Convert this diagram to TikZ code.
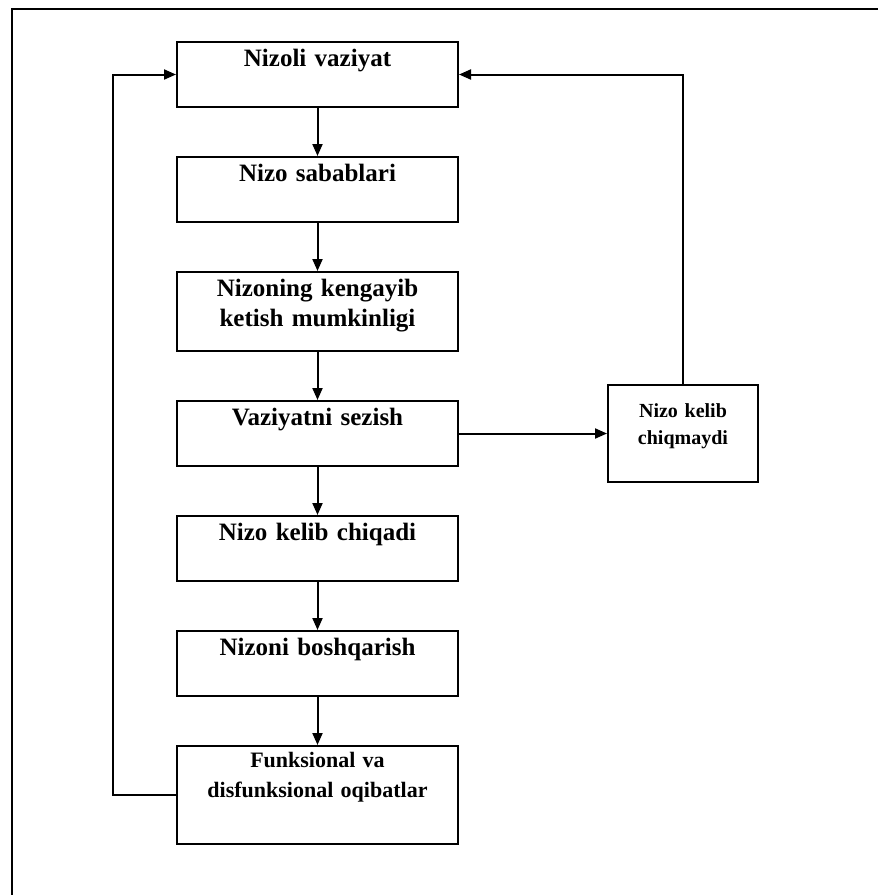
\documentclass[tikz,border=0pt]{standalone}
\usepackage{fontspec}
\setmainfont{Liberation Serif}
\usetikzlibrary{positioning, arrows.meta}

\begin{document}
\begin{tikzpicture}[node distance=24pt, line width=1pt,
	box/.style={draw, rectangle, inner sep=3pt, text width=134.5pt, align=center,
		font=\fontsize{12.5}{15}\selectfont\bfseries, text height=9pt, text depth=17.5pt},
	arr/.style={-{Triangle[length=6pt,width=5pt]}}]
	\useasboundingbox (0,0) rectangle (440pt,-447.5pt);
	\draw (6pt,-447.5pt) -- (6pt,-4.5pt) -- (439pt,-4.5pt);
	\node[box] (vaz) at (158.75pt,-37.25pt) {Nizoli vaziyat};
	\node[box, below=of vaz] (sab) {Nizo sabablari};
	\node[box, below=of sab, text depth=24.5pt] (keng) {Nizoning kengayib\\ketish mumkinligi};
	\node[box, below=of keng] (sez) {Vaziyatni sezish};
	\node[box, below=of sez] (chiq) {Nizo kelib chiqadi};
	\node[box, below=of chiq] (bosh) {Nizoni boshqarish};
	\node[box, below=of bosh, font=\fontsize{11}{15}\selectfont\bfseries, text height=7.5pt, text depth=35.5pt] (oqib) {Funksional va\\disfunksional oqibatlar};
	\node[box, right=74pt of sez, text width=69pt, font=\fontsize{10}{13.5}\selectfont\bfseries, text height=13pt, text depth=29.5pt] (yoq) {Nizo kelib chiqmaydi};
	\draw[arr] (vaz) -- (sab);
	\draw[arr] (sab) -- (keng);
	\draw[arr] (keng) -- (sez);
	\draw[arr] (sez) -- (chiq);
	\draw[arr] (chiq) -- (bosh);
	\draw[arr] (bosh) -- (oqib);
	\draw[arr] (oqib.west) -- ++(-31.5pt,0) coordinate (aux) |- (vaz.west);
	\draw[arr] (sez) -- (yoq);
	\draw[arr] (yoq) |- (vaz);
\end{tikzpicture}
\end{document}
